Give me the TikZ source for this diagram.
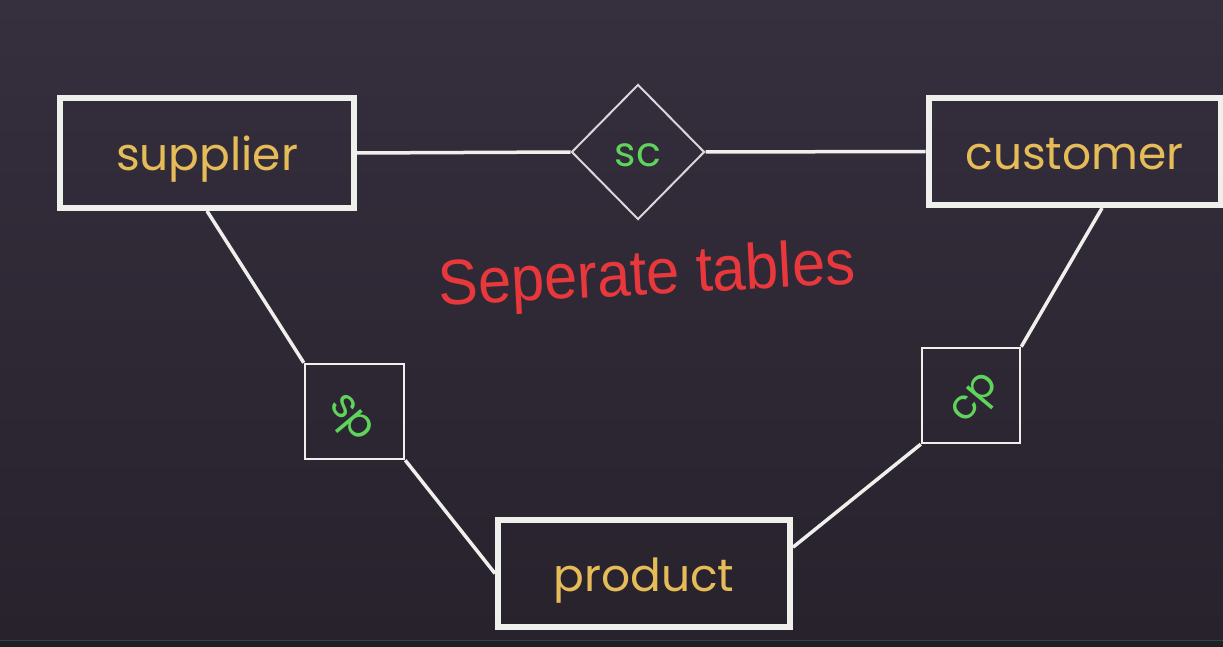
\documentclass[tikz,border=0pt]{standalone}
\usepackage{fontspec}
\setmainfont{Poppins}
\newfontfamily\handfont{Liberation Sans}
\usetikzlibrary{shapes.geometric,calc}
\definecolor{bgtop}{HTML}{352F3E}
\definecolor{bgbot}{HTML}{28222D}
\definecolor{stripcol}{HTML}{1E2023}
\definecolor{stripline}{HTML}{3A4048}
\definecolor{boxline}{HTML}{EFEFEC}
\definecolor{diamline}{HTML}{D8D8D8}
\definecolor{gold}{HTML}{E5BC58}
\definecolor{lgreen}{HTML}{5ED45A}
\definecolor{handred}{HTML}{E8383C}
\tikzset{
  entity/.style={draw=boxline, line width=6pt, rectangle, inner sep=0pt,
    text=gold, font=\fontsize{45.5}{50}\selectfont, text height=36pt, text depth=0pt},
  relbox/.style={draw=boxline, line width=2.5pt, rectangle, inner sep=0pt},
  reltext/.style={text=lgreen, font=\fontsize{41}{46}\selectfont, inner sep=0pt},
  reldiam/.style={draw=diamline, line width=2pt, diamond, inner sep=0pt,
    text=lgreen, font=\fontsize{41}{46}\selectfont, text height=30pt, text depth=0pt},
  conn/.style={draw=boxline, line width=3.5pt},
  hand/.style={text=handred, font=\handfont\fontsize{64}{70}\selectfont, inner sep=0pt}
}
\begin{document}
\begin{tikzpicture}[x=1pt,y=-1pt]
\useasboundingbox (0,0) rectangle (1223,647);
\shade[top color=bgtop,bottom color=bgbot] (0,0) rectangle (1223,640);
\fill[stripcol] (0,640) rectangle (1223,647);
\draw[stripline, line width=1pt] (0,640.5) -- (1223,640.5);

\node[entity, minimum width=294pt, minimum height=110pt] (supplier) at (207,153) {supplier};
\node[entity, minimum width=292pt, minimum height=107pt] (customer) at (1074.5,151.5) {customer};
\node[entity, minimum width=292pt, minimum height=107pt] (product) at (644,573.5) {product};
\node[reldiam, minimum width=133pt, minimum height=135pt] (sc) at (638,152) {sc};
\node[relbox, minimum width=99pt, minimum height=95pt] (sp) at (354.5,411.5) {};
\node[relbox, minimum width=98pt, minimum height=95pt] (cp) at (971,395.5) {};
\node[reltext, rotate=-50] (sptext) at (348.5,420) {sp};
\node[reltext, rotate=50] (cptext) at (978,400) {cp};

\draw[conn] (supplier.east) -- (sc.west);
\draw[conn] (sc.east) -- (customer.west);
\draw[conn] (supplier.south) -- (sp.north west);
\draw[conn] (sp.south east) -- (product.west);
\draw[conn] (product.10) -- (cp.south west);
\draw[conn] (cp.north east) -- (customer.-64);

\node[hand, rotate=3, xscale=0.93] (note) at (647,278) {Seperate tables};
\end{tikzpicture}
\end{document}
